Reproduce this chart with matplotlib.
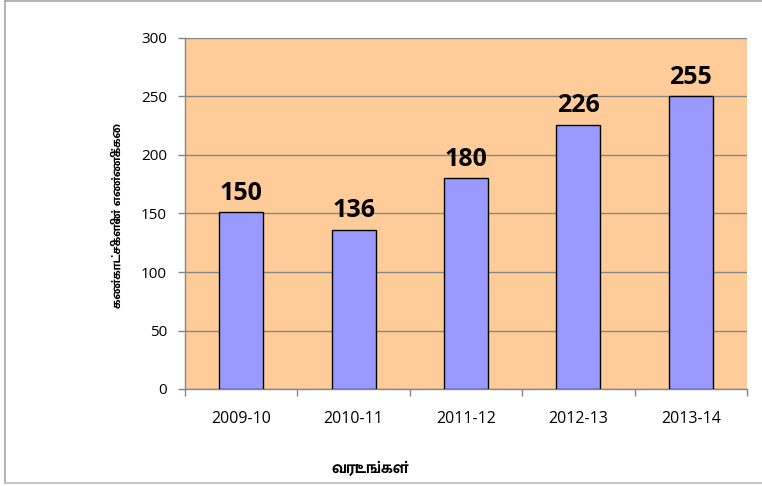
import matplotlib
matplotlib.use("Agg")
import matplotlib.pyplot as plt
from matplotlib import font_manager
from matplotlib.lines import Line2D

categories = ["2009-10", "2010-11", "2011-12", "2012-13", "2013-14"]
values = [151, 136, 180, 226, 250]
value_labels = ["150", "136", "180", "226", "255"]
yticks = [0, 50, 100, 150, 200, 250, 300]
xlabel = "வருடங்கள்"
ylabel = "கண்காட்சிகளின் எண்ணிக்கை"

# register Tamil fonts (Mukta Malar preferred, Noto Sans Tamil fallback)
for f in font_manager.findSystemFonts():
    low = f.lower()
    if "muktamalar" in low or "notosanstamil" in low:
        try:
            font_manager.fontManager.addfont(f)
        except Exception:
            pass
names = {fe.name for fe in font_manager.fontManager.ttflist}
tfam = [n for n in ["Mukta Malar", "Noto Sans Tamil"] if n in names] + ["DejaVu Sans"]

plt.rcParams["font.family"] = ["Open Sans", "DejaVu Sans"]

fig = plt.figure(figsize=(7.62, 4.86), dpi=100)
ax = fig.add_axes([185/762, 1-389/486, (747-185)/762, (389-38)/486])
ax.set_facecolor("#FFCC99")

x = list(range(len(categories)))
ax.bar(x, values, width=0.39, color="#9999FF", edgecolor="black", linewidth=1.0, zorder=3)
for xi, v, lab in zip(x, values, value_labels):
    ax.annotate(lab, (xi, v), xytext=(0, 9), textcoords="offset points",
                ha="center", va="baseline", fontsize=18, fontweight="bold", zorder=4)

ax.set_xlim(-0.5, len(categories) - 0.5)
ax.set_ylim(0, 300)
ax.set_yticks(yticks)
ax.set_yticklabels([str(t) for t in yticks], fontsize=11)
ax.yaxis.grid(True, color="#868686", linewidth=1.0, zorder=1)
ax.set_axisbelow(True)

ax.set_xticks(x)
ax.set_xticklabels(categories, fontsize=11.5)
ax.tick_params(axis="x", length=0, pad=16)
ax.set_xticks([i - 0.5 for i in range(len(categories) + 1)], minor=True)
ax.tick_params(axis="x", which="minor", length=5, color="#868686", width=1)
ax.tick_params(axis="y", length=5, color="#868686", width=1, pad=8)

for s in ["top", "right"]:
    ax.spines[s].set_visible(False)
for s in ["left", "bottom"]:
    ax.spines[s].set_color("#868686")
    ax.spines[s].set_linewidth(1.0)

fig.text(370/762, 1-469/486, xlabel, ha="center", va="center", fontsize=12,
         fontweight="bold", family=tfam)
fig.text(118/762, 1-215/486, ylabel, ha="center", va="center", fontsize=9.5,
         fontweight="bold", rotation=90, family=tfam)

# chart border
fig.add_artist(Line2D([5/762, 5/762], [1-1/486, 1-483/486], color="#a6a6a6", lw=1.2, transform=fig.transFigure))
fig.add_artist(Line2D([5/762, 1], [1-1/486, 1-1/486], color="#a6a6a6", lw=1.2, transform=fig.transFigure))
fig.add_artist(Line2D([5/762, 1], [1-483/486, 1-483/486], color="#c8c8c8", lw=1.5, transform=fig.transFigure))

fig.savefig("out.png", dpi=100)
